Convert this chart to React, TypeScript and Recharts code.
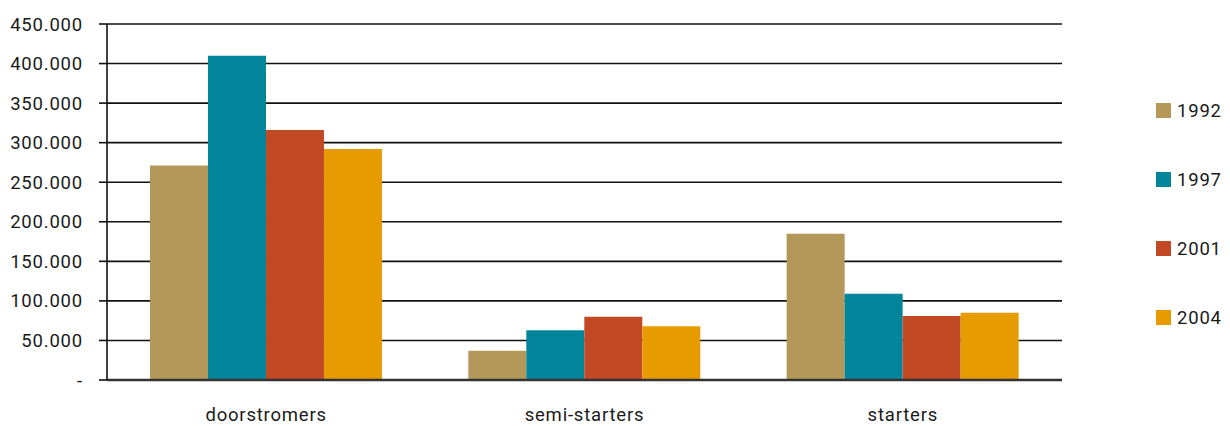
import { Bar, BarChart, CartesianGrid, XAxis, YAxis } from "recharts";

const categories = ["doorstromers", "semi-starters", "starters"];
const years = ["1992", "1997", "2001", "2004"];
const values1992 = [271000, 37000, 185000];
const values1997 = [410000, 63000, 109000];
const values2001 = [316000, 80000, 81000];
const values2004 = [292000, 68000, 85000];
const yTicks = [0, 50000, 100000, 150000, 200000, 250000, 300000, 350000, 400000, 450000];

const COLORS = ["#b3985a", "#02849b", "#c14a25", "#e69c00"];
const FONT = "Roboto, 'DejaVu Sans', sans-serif";

const seriesValues = [values1992, values1997, values2001, values2004];
const data = categories.map((name, i) => {
  const row: Record<string, string | number> = { name };
  years.forEach((y, k) => {
    row[y] = seriesValues[k][i];
  });
  return row;
});

const fmt = (v: number) =>
  v === 0 ? "-" : String(v).replace(/\B(?=(\d{3})+(?!\d))/g, ".");

const TICK = { fill: "#1a1a1a", fontSize: 18.5, fontFamily: FONT, letterSpacing: 0.8 };

export default function App() {
  return (
    <div style={{ position: "absolute", left: 0, top: 0, width: 1230, height: 426, background: "#fff" }}>
      <BarChart
        width={1230}
        height={426}
        data={data}
        margin={{ top: 24, right: 168, left: 0, bottom: 16 }}
        barCategoryGap="13.5%"
        barGap={0}
      >
        <CartesianGrid vertical={false} stroke="#111" strokeWidth={1.6} />
        <XAxis
          dataKey="name"
          height={30}
          axisLine={{ stroke: "#333", strokeWidth: 2.5 }}
          tickLine={false}
          tickSize={0}
          tickMargin={28}
          tick={TICK}
        />
        <YAxis
          width={107}
          domain={[0, 450000]}
          ticks={yTicks}
          interval={0}
          tickFormatter={fmt}
          axisLine={{ stroke: "#111", strokeWidth: 1.6 }}
          tickLine={{ stroke: "#111", strokeWidth: 1.6 }}
          tickSize={8}
          tickMargin={16}
          tick={TICK}
        />
        {years.map((y, k) => (
          <Bar key={y} dataKey={y} fill={COLORS[k]} isAnimationActive={false} />
        ))}
      </BarChart>
      <div style={{ position: "absolute", left: 1156, top: 103, fontFamily: FONT }}>
        {years.map((y, k) => (
          <div key={y} style={{ display: "flex", alignItems: "center", height: 15, marginBottom: k < years.length - 1 ? 54 : 0 }}>
            <span style={{ width: 15, height: 15, background: COLORS[k], display: "inline-block" }} />
            <span style={{ marginLeft: 6, fontSize: 18.5, color: "#1a1a1a", letterSpacing: 0.8 }}>{y}</span>
          </div>
        ))}
      </div>
    </div>
  );
}
